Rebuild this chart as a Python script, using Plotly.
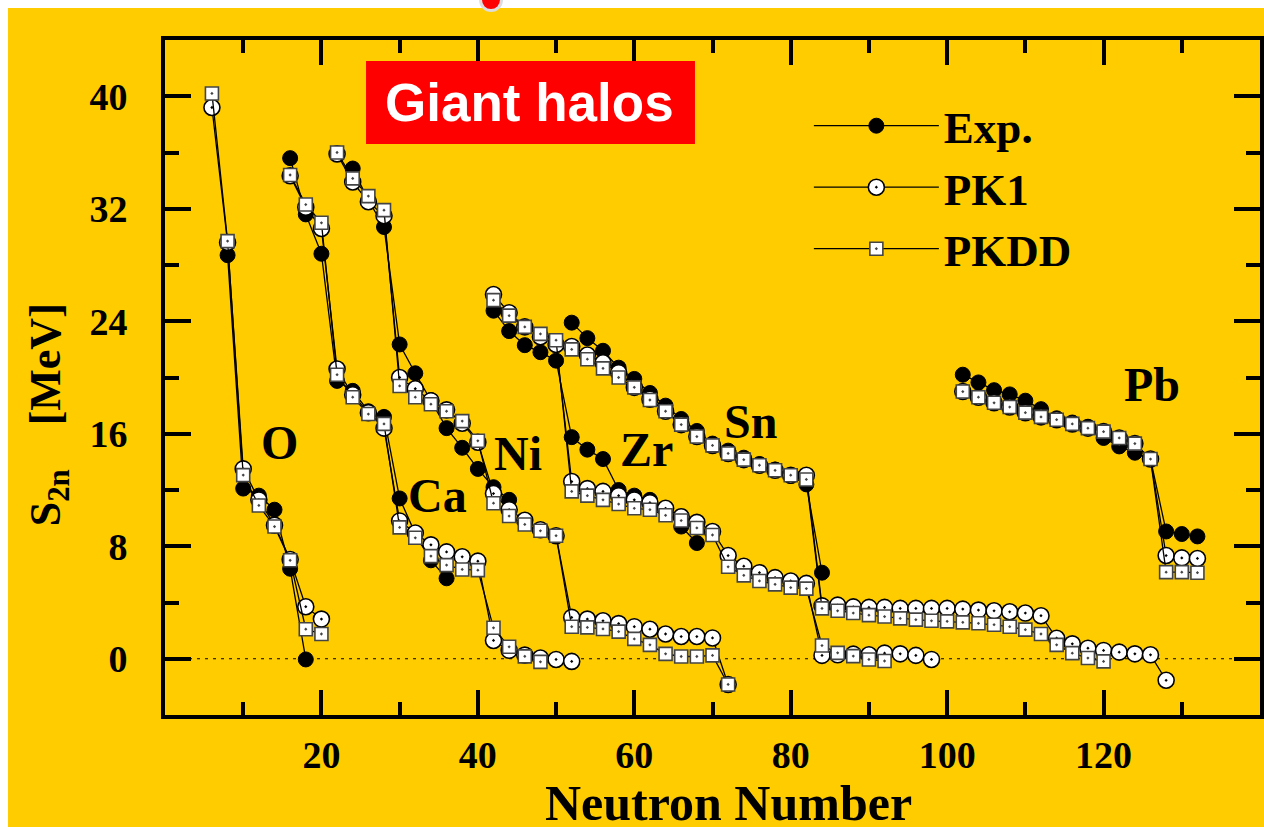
import plotly.graph_objects as go

# ---------------- data (two-neutron separation energies, MeV) ----------------
N_O = [6, 8, 10, 12, 14, 16, 18, 20]
O_exp = [None, 28.7, 12.1, 11.6, 10.6, 6.4, -0.05, None]
O_pk1 = [39.2, 29.6, 13.5, 11.3, 9.5, 7.06, 3.7, 2.82]
O_pkdd = [40.2, 29.7, 13.06, 10.9, 9.4, 7.0, 2.1, 1.76]

N_Ca = [16, 18, 20, 22, 24, 26, 28, 30, 32, 34, 36, 38, 40, 42, 44, 46, 48, 50, 52]
Ca_exp = [35.6, 31.6, 28.8, 19.76, 19.05, 17.6, 17.2, 11.4, 8.9, 7.0, 5.72,
          None, None, None, None, None, None, None, None]
Ca_pk1 = [34.35, 32.1, 30.6, 20.6, 18.77, 17.5, 16.4, 9.8, 8.94, 8.1, 7.6,
          7.25, 6.94, 1.3, 0.6, 0.26, 0.05, -0.05, -0.19]
Ca_pkdd = [34.4, 32.3, 31.0, 20.2, 18.6, 17.4, 16.7, 9.34, 8.6, 7.3, 6.66,
           6.35, 6.3, 2.2, 0.85, 0.17, -0.22, None, None]

N_Ni = [22, 24, 26, 28, 30, 32, 34, 36, 38, 40, 42, 44, 46, 48, 50, 52, 54,
        56, 58, 60, 62, 64, 66, 68, 70, 72]
Ni_exp = [None, 34.86, 32.6, 30.7, 22.35, 20.3, 18.4, 16.4, 15.0, 13.5, 12.2,
          11.3, None, None, None, None, None, None, None, None, None, None,
          None, None, None, None]
Ni_pk1 = [35.9, 33.9, 32.5, 31.5, 20.0, 19.2, 18.35, 17.7, 16.75, 15.4, 11.75,
          10.6, 9.85, 9.17, 8.75, 2.94, 2.82, 2.7, 2.5, 2.28, 2.1, 1.76, 1.58,
          1.58, 1.48, -1.83]
Ni_pkdd = [36.0, 34.16, 32.9, 31.9, 19.4, 18.6, 18.1, 17.6, 16.9, 15.5, 11.06,
           10.15, 9.55, 9.1, 8.75, 2.28, 2.23, 2.12, 1.93, 1.41, 0.99, 0.35,
           0.16, 0.16, 0.24, -1.83]

N_Zr = [42, 44, 46, 48, 50, 52, 54, 56, 58, 60, 62, 64, 66, 68, 70, 72, 74,
        76, 78, 80, 82, 84, 86, 88, 90, 92, 94, 96, 98]
Zr_exp = [24.75, 23.3, 22.3, 21.8, 21.2, 15.76, 14.87, 14.2, 12.0, 11.6, 11.3,
          10.6, 9.4, 8.23, None, None, None, None, None, None, None, None,
          None, None, None, None, None, None, None]
Zr_pk1 = [25.9, 24.6, 23.6, 22.9, 22.35, 12.6, 12.1, 11.9, 11.6, 11.3, 11.1,
          10.7, 10.1, 9.7, 9.05, 7.34, 6.58, 6.12, 5.77, 5.53, 5.36, 0.24,
          0.28, 0.33, 0.28, 0.4, 0.35, 0.24, -0.05]
Zr_pkdd = [25.5, 24.4, 23.6, 23.1, 22.65, 11.9, 11.6, 11.3, 11.0, 10.7, 10.6,
           10.2, 9.83, 9.3, 8.8, 6.54, 5.93, 5.53, 5.29, 5.06, 4.99, 0.94,
           0.42, 0.19, -0.05, -0.16, None, None, None]

N_Sn = [52, 54, 56, 58, 60, 62, 64, 66, 68, 70, 72, 74, 76, 78, 80, 82, 84,
        86, 88, 90, 92, 94, 96, 98, 100, 102, 104, 106, 108, 110, 112, 114,
        116, 118, 120, 122, 124, 126, 128]
Sn_exp = [23.9, 22.8, 21.9, 20.7, 19.9, 18.9, 18.0, 17.05, 16.2, 15.3, 14.8,
          14.3, 13.85, 13.45, 13.0, 12.4, 6.12, None, None, None, None, None,
          None, None, None, None, None, None, None, None, None, None, None,
          None, None, None, None, None, None]
Sn_pk1 = [22.2, 21.6, 21.05, 20.35, 19.3, 18.45, 17.6, 16.65, 15.8, 15.17,
          14.6, 14.16, 13.76, 13.4, 13.05, 13.05, 3.76, 3.81, 3.69, 3.65, 3.65,
          3.58, 3.58, 3.58, 3.58, 3.53, 3.46, 3.41, 3.34, 3.25, 3.06, 1.46,
          1.06, 0.75, 0.59, 0.47, 0.35, 0.28, -1.53]
Sn_pkdd = [22.0, 21.3, 20.65, 20.0, 19.3, 18.4, 17.6, 16.65, 15.8, 15.17,
           14.6, 14.16, 13.76, 13.4, 13.05, 12.75, 3.58, 3.41, 3.25, 3.1, 3.0,
           2.87, 2.78, 2.7, 2.66, 2.59, 2.52, 2.42, 2.28, 2.07, 1.76, 0.99,
           0.4, 0.05, -0.19, None, None, None, None]

N_Pb = [102, 104, 106, 108, 110, 112, 114, 116, 118, 120, 122, 124, 126, 128,
        130, 132]
Pb_exp = [20.2, 19.65, 19.1, 18.8, 18.35, 17.75, 17.1, 16.8, 16.5, 15.7, 15.1,
          14.65, 14.2, 9.05, 8.87, 8.7]
Pb_pk1 = [19.0, 18.6, 18.2, 17.9, 17.5, 17.2, 17.0, 16.7, 16.4, 16.15, 15.7,
          15.3, 14.2, 7.34, 7.17, 7.13]
Pb_pkdd = [19.0, 18.6, 18.2, 17.9, 17.5, 17.2, 17.0, 16.7, 16.4, 16.15, 15.7,
           15.3, 14.2, 6.16, 6.16, 6.12]

elements = ["O", "Ca", "Ni", "Zr", "Sn", "Pb"]
label_x = [14.6, 34.9, 45.1, 61.6, 74.8, 126.2]
label_y = [15.4, 11.6, 14.6, 14.85, 16.85, 19.5]

x_tick_vals = [20, 40, 60, 80, 100, 120]
x_minor_vals = [10, 30, 50, 70, 90, 110, 130]
y_tick_vals = [0, 8, 16, 24, 32, 40]
y_minor_vals = [4, 12, 20, 28, 36]

chains_N = [N_O, N_Ca, N_Ni, N_Zr, N_Sn, N_Pb]
chains_exp = [O_exp, Ca_exp, Ni_exp, Zr_exp, Sn_exp, Pb_exp]
chains_pk1 = [O_pk1, Ca_pk1, Ni_pk1, Zr_pk1, Sn_pk1, Pb_pk1]
chains_pkdd = [O_pkdd, Ca_pkdd, Ni_pkdd, Zr_pkdd, Sn_pkdd, Pb_pkdd]


def joined(ns, vals):
    xs, ys = [], []
    for n, v in zip(ns, vals):
        xs.extend(list(n) + [None])
        ys.extend(list(v) + [None])
    return xs, ys


YELLOW = "#FFCC00"
SERIF = "Liberation Serif"

fig = go.Figure()

x, y = joined(chains_N, chains_exp)
fig.add_trace(go.Scatter(
    x=x, y=y, name="Exp.", mode="lines+markers",
    line=dict(color="black", width=1.3),
    marker=dict(symbol="circle", size=15, color="black",
                line=dict(color="black", width=1)),
))
x, y = joined(chains_N, chains_pk1)
fig.add_trace(go.Scatter(
    x=x, y=y, name="PK1", mode="lines+markers",
    line=dict(color="black", width=1.3),
    marker=dict(symbol="circle-dot", size=16, color="white",
                line=dict(color="black", width=1.6)),
))
x, y = joined(chains_N, chains_pkdd)
fig.add_trace(go.Scatter(
    x=x, y=y, name="PKDD", mode="lines+markers",
    line=dict(color="black", width=1.3),
    marker=dict(symbol="square-dot", size=13, color="white",
                line=dict(color="#444444", width=1.6)),
))

# zero reference line
fig.add_hline(y=0, line=dict(color="black", width=1.2, dash="3px,5px"),
              layer="below")

# element labels
for name, lx, ly in zip(elements, label_x, label_y):
    fig.add_annotation(x=lx, y=ly, xref="x", yref="y", text=name,
                       showarrow=False, xanchor="center", yanchor="middle",
                       font=dict(family=SERIF, size=48, color="black",
                                 weight="bold"))

# axis titles
fig.add_annotation(xref="paper", yref="paper", x=0.515, y=-0.13,
                   text="Neutron Number", showarrow=False,
                   xanchor="center", yanchor="middle",
                   font=dict(family=SERIF, size=50, color="black",
                             weight="bold"))
fig.add_annotation(xref="paper", yref="paper", x=-0.1068, y=0.444,
                   text="S<sub>2n</sub>\u00a0\u00a0\u00a0\u00a0[MeV]",
                   textangle=-90, showarrow=False,
                   xanchor="center", yanchor="middle",
                   font=dict(family=SERIF, size=44, color="black",
                             weight="bold"))

# "Giant halos" box
fig.add_shape(type="rect", xref="paper", yref="paper",
              x0=0.1836, x1=0.484, y0=0.846, y1=0.969,
              fillcolor="#FF0000", line=dict(width=0), layer="above")
fig.add_annotation(xref="paper", yref="paper", x=0.3333, y=0.9067,
                   text="Giant halos", showarrow=False,
                   xanchor="center", yanchor="middle",
                   font=dict(family="Liberation Sans", size=53, color="white",
                             weight="bold"))

# white page edges and the slide ornament at the top
fig.add_shape(type="rect", xref="paper", yref="paper",
              x0=-0.2, x1=-0.1434, y0=-0.3, y1=1.2,
              fillcolor="white", line=dict(width=0), layer="above")
fig.add_shape(type="rect", xref="paper", yref="paper",
              x0=-0.2, x1=1.1, y0=1.0474, y1=1.2,
              fillcolor="white", line=dict(width=0), layer="above")
fig.add_shape(type="circle", xref="paper", yref="paper",
              x0=0.2868, x1=0.3087, y0=1.0415, y1=1.077,
              fillcolor="#DDDDDD", line=dict(width=0), layer="above")
fig.add_shape(type="circle", xref="paper", yref="paper",
              x0=0.2895, x1=0.3059, y0=1.0459, y1=1.0726,
              fillcolor="#FF0000", line=dict(width=0), layer="above")

tickfont = dict(family=SERIF, size=38, color="black", weight="bold")

fig.update_layout(
    template="none",
    width=1264, height=827, autosize=False,
    margin=dict(l=165, r=4, t=40, b=112, pad=0, autoexpand=False),
    paper_bgcolor=YELLOW, plot_bgcolor=YELLOW,
    showlegend=True,
    legend=dict(x=0.588, y=0.926, xanchor="left", yanchor="top",
                bgcolor="rgba(0,0,0,0)", borderwidth=0,
                font=dict(family=SERIF, size=45, color="black", weight="bold"),
                itemwidth=125, tracegroupgap=0, itemsizing="trace"),
    xaxis=dict(
        range=[0, 140], showgrid=False, zeroline=False, automargin=False,
        showline=True, linewidth=4, linecolor="black", mirror="allticks",
        ticks="inside", ticklen=25, tickwidth=4, tickcolor="black",
        tickmode="array", tickvals=x_tick_vals,
        tickfont=tickfont, ticklabelstandoff=3,
        minor=dict(tickmode="array", tickvals=x_minor_vals, ticks="inside",
                   ticklen=13, tickwidth=4, tickcolor="black", showgrid=False),
    ),
    yaxis=dict(
        range=[-4, 44], showgrid=False, zeroline=False, automargin=False,
        showline=True, linewidth=4, linecolor="black", mirror="allticks",
        ticks="inside", ticklen=26, tickwidth=4, tickcolor="black",
        tickmode="array", tickvals=y_tick_vals,
        tickfont=tickfont, ticklabelstandoff=26,
        minor=dict(tickmode="array", tickvals=y_minor_vals, ticks="inside",
                   ticklen=14, tickwidth=4, tickcolor="black", showgrid=False),
    ),
)

fig.write_html("out.html")
